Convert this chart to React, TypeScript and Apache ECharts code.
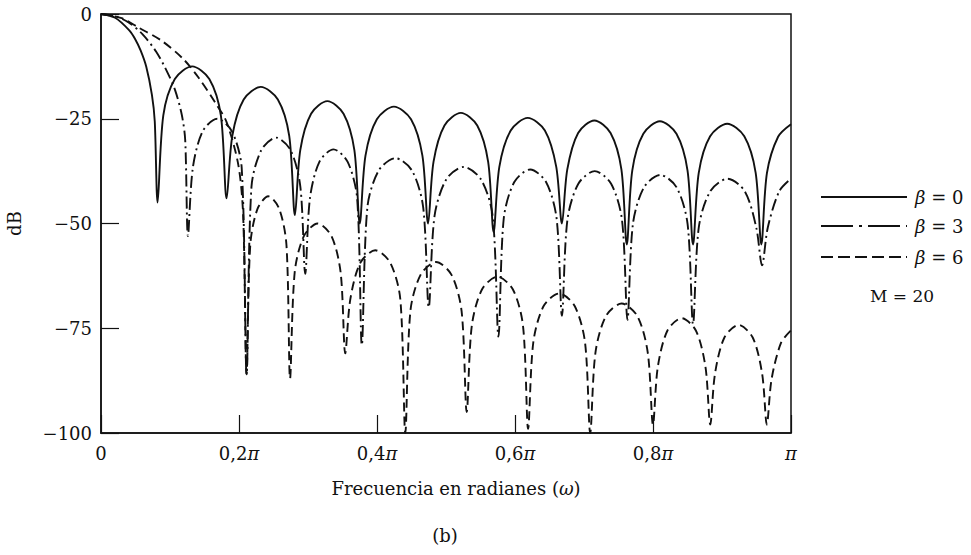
import React, { useEffect, useRef } from "react";
import * as echarts from "echarts";

// x in units of π (normalized frequency ω/π), y in dB
const xTickLabels = ["0", "0,2{p|π}", "0,4{p|π}", "0,6{p|π}", "0,8{p|π}", "{p|π}"];
const yTicks = [0, -25, -50, -75, -100];

const beta0: [number, number][] = [
  [0, 0], [0.0205, -0.9], [0.041, -3.9], [0.0492, -5.9], [0.0574, -8.7], [0.0656, -12.6], [0.0738, -19.3], [0.0779, -25.6], [0.082, -45],
  [0.0903, -24.2], [0.107, -15.5], [0.132, -12.5], [0.157, -15.5], [0.1737, -24.2], [0.182, -44],
  [0.1903, -29.1], [0.2068, -20.4], [0.2315, -17.4], [0.2563, -20.4], [0.2728, -29.1], [0.281, -48],
  [0.2888, -32.5], [0.3045, -23.8], [0.328, -20.8], [0.3515, -23.8], [0.3672, -32.5], [0.375, -50],
  [0.3833, -33.8], [0.3998, -25.1], [0.4245, -22.1], [0.4493, -25.1], [0.4658, -33.8], [0.474, -50],
  [0.4819, -35.3], [0.4978, -26.6], [0.5215, -23.6], [0.5453, -26.6], [0.5611, -35.3], [0.569, -52],
  [0.5773, -36.5], [0.5938, -27.8], [0.6185, -24.8], [0.6433, -27.8], [0.6598, -36.5], [0.668, -50],
  [0.6758, -37.1], [0.6915, -28.4], [0.715, -25.4], [0.7385, -28.4], [0.7542, -37.1], [0.762, -55],
  [0.77, -37.3], [0.786, -28.6], [0.81, -25.6], [0.834, -28.6], [0.85, -37.3], [0.858, -55],
  [0.8663, -37.9], [0.8828, -29.2], [0.9075, -26.2], [0.9323, -29.2], [0.9488, -37.9], [0.957, -55],
  [0.9651, -38], [0.9813, -29.3], [1.0, -26.3],
];

const beta3: [number, number][] = [
  [0, 0], [0.02, -0.5], [0.04, -2], [0.06, -4.8], [0.08, -9], [0.095, -13.5], [0.107, -18], [0.117, -24], [0.122, -30], [0.126, -53],
  [0.1331, -36.7], [0.1473, -28], [0.1685, -25], [0.1898, -28], [0.2039, -36.7], [0.211, -86],
  [0.2181, -41.2], [0.2323, -32.5], [0.2535, -29.5], [0.2748, -32.5], [0.2889, -41.2], [0.296, -62],
  [0.3028, -44], [0.3165, -35.3], [0.337, -32.3], [0.3575, -35.3], [0.3712, -44], [0.378, -79],
  [0.3861, -46.1], [0.4023, -37.4], [0.4265, -34.4], [0.4508, -37.4], [0.4669, -46.1], [0.475, -70],
  [0.4834, -48.2], [0.5003, -39.5], [0.5255, -36.5], [0.5508, -39.5], [0.5676, -48.2], [0.576, -77],
  [0.5837, -48.8], [0.599, -40.1], [0.622, -37.1], [0.645, -40.1], [0.6603, -48.8], [0.668, -72],
  [0.6759, -49.2], [0.6918, -40.5], [0.7155, -37.5], [0.7393, -40.5], [0.7551, -49.2], [0.763, -73],
  [0.7709, -50.1], [0.7868, -41.4], [0.8105, -38.4], [0.8343, -41.4], [0.8501, -50.1], [0.858, -74],
  [0.8663, -51], [0.883, -42.3], [0.908, -39.3], [0.933, -42.3], [0.9497, -51], [0.958, -60],
  [0.9663, -51], [0.983, -42.3], [1.0, -39.3],
];

const beta6: [number, number][] = [
  [0, 0], [0.03, -1], [0.054, -3.2], [0.088, -6.4], [0.119, -10.7], [0.141, -15.1], [0.165, -21], [0.182, -25.8], [0.199, -36], [0.206, -48], [0.211, -86],
  [0.2163, -55.2], [0.2268, -46.5], [0.2425, -43.5], [0.2583, -46.5], [0.2688, -55.2], [0.274, -87],
  [0.2807, -61.7], [0.294, -53], [0.314, -50], [0.334, -53], [0.3473, -61.7], [0.354, -81],
  [0.3613, -68.1], [0.3758, -59.4], [0.3975, -56.4], [0.4193, -59.4], [0.4338, -68.1], [0.441, -100],
  [0.4484, -70.9], [0.4633, -62.2], [0.4855, -59.2], [0.5078, -62.2], [0.5226, -70.9], [0.53, -95],
  [0.5374, -74.4], [0.5523, -65.7], [0.5745, -62.7], [0.5968, -65.7], [0.6116, -74.4], [0.619, -99],
  [0.6265, -78.4], [0.6415, -69.7], [0.664, -66.7], [0.6865, -69.7], [0.7015, -78.4], [0.709, -100],
  [0.7166, -80.8], [0.7318, -72.1], [0.7545, -69.1], [0.7773, -72.1], [0.7924, -80.8], [0.8, -98],
  [0.8069, -84.3], [0.8208, -75.6], [0.8415, -72.6], [0.8623, -75.6], [0.8761, -84.3], [0.883, -98],
  [0.8898, -85.9], [0.9035, -77.2], [0.924, -74.2], [0.9445, -77.2], [0.9582, -85.9], [0.965, -98],
  [0.9718, -87.2], [0.9855, -78.5], [1.0, -75.5],
];

const betaValues = ["0", "3", "6"];
const seriesNames = betaValues.map((b) => "β = " + b);
const legendNote = "M = 20";
const xAxisTitle = "Frecuencia en radianes ({w|ω})";
const yAxisTitle = "dB";
const caption = "(b)";

const FONT = "'DejaVu Serif', 'Liberation Serif', serif";
const INK = "#111";
const FS = 18;
const italic = { fontStyle: "italic", fontFamily: FONT, fontSize: FS, color: INK, fill: INK };

export default function App() {
  const ref = useRef<HTMLDivElement>(null);

  useEffect(() => {
    document.body.style.margin = "0";
    if (!ref.current) return;
    const chart = echarts.init(ref.current, undefined, { renderer: "svg" });

    const legendRows = [
      { y: 197, dash: null as number[] | null },
      { y: 226, dash: [32, 6, 3, 6] },
      { y: 257, dash: [12, 5] },
    ];

    const graphic: any[] = [];
    legendRows.forEach((row, i) => {
      graphic.push({
        type: "line",
        shape: { x1: 821, y1: row.y, x2: 907, y2: row.y },
        style: { stroke: INK, lineWidth: 2, lineDash: row.dash || undefined },
      });
      graphic.push({
        type: "text",
        x: 915,
        y: row.y,
        style: {
          text: "{i|β} = " + betaValues[i],
          rich: { i: italic },
          fontFamily: FONT,
          fontSize: FS,
          fill: INK,
          verticalAlign: "middle",
          align: "left",
        },
      });
    });
    graphic.push({
      type: "text",
      x: 902,
      y: 296,
      style: { text: legendNote, fontFamily: FONT, fontSize: 17, fill: INK, align: "center", verticalAlign: "middle" },
    });
    graphic.push({
      type: "text",
      x: 445,
      y: 535,
      style: { text: caption, fontFamily: FONT, fontSize: FS, fill: INK, align: "center", verticalAlign: "middle" },
    });

    const mkSeries = (name: string, data: [number, number][], type: any) => ({
      name,
      type: "line",
      data,
      showSymbol: false,
      symbol: "none",
      smooth: 0.3,
      clip: true,
      lineStyle: { color: INK, width: 1.9, type },
    });

    chart.setOption({
      animation: false,
      backgroundColor: "#fff",
      textStyle: { fontFamily: FONT, color: INK },
      grid: {
        left: 101,
        right: 180,
        top: 14,
        bottom: 122,
        show: true,
        borderColor: INK,
        borderWidth: 1.5,
        backgroundColor: "transparent",
        containLabel: false,
        outerBoundsMode: "none",
      },
      xAxis: {
        type: "value",
        position: "bottom",
        min: 0,
        max: 1,
        interval: 0.2,
        name: xAxisTitle,
        nameLocation: "middle",
        nameGap: 46,
        nameTextStyle: {
          fontFamily: FONT,
          fontSize: FS,
          color: INK,
          padding: [0, 0, 0, 20],
          rich: { w: italic },
        },
        axisLine: { show: true, onZero: false, lineStyle: { color: INK, width: 1.5 } },
        axisTick: { show: true, inside: true, length: 18, lineStyle: { color: INK, width: 1.2 } },
        axisLabel: {
          fontFamily: FONT,
          fontSize: FS,
          color: INK,
          margin: 11,
          rich: { p: italic },
          formatter: (v: number) => xTickLabels[Math.round(v / 0.2)] ?? "",
        },
        splitLine: { show: false },
      },
      yAxis: {
        type: "value",
        position: "left",
        min: -100,
        max: 0,
        interval: 25,
        name: yAxisTitle,
        nameLocation: "middle",
        nameGap: 78,
        nameRotate: 90,
        nameTextStyle: { fontFamily: FONT, fontSize: FS, color: INK },
        axisLine: { show: true, onZero: false, lineStyle: { color: INK, width: 1.5 } },
        axisTick: { show: true, inside: true, length: 18, lineStyle: { color: INK, width: 1.2 } },
        axisLabel: {
          fontFamily: FONT,
          fontSize: FS,
          color: INK,
          margin: 9,
          formatter: (v: number) => {
            const t = yTicks.find((k) => k === v);
            if (t === undefined) return "";
            return t === 0 ? "0" : "\u2212" + Math.abs(t);
          },
        },
        splitLine: { show: false },
      },
      series: [
        mkSeries(seriesNames[0], beta0, "solid"),
        mkSeries(seriesNames[1], beta3, [12, 4, 2, 4]),
        mkSeries(seriesNames[2], beta6, [9, 5]),
      ],
      graphic,
    });

    return () => chart.dispose();
  }, []);

  return (
    <div
      ref={ref}
      style={{ position: "fixed", left: 0, top: 0, width: 971, height: 555, background: "#fff" }}
    />
  );
}
